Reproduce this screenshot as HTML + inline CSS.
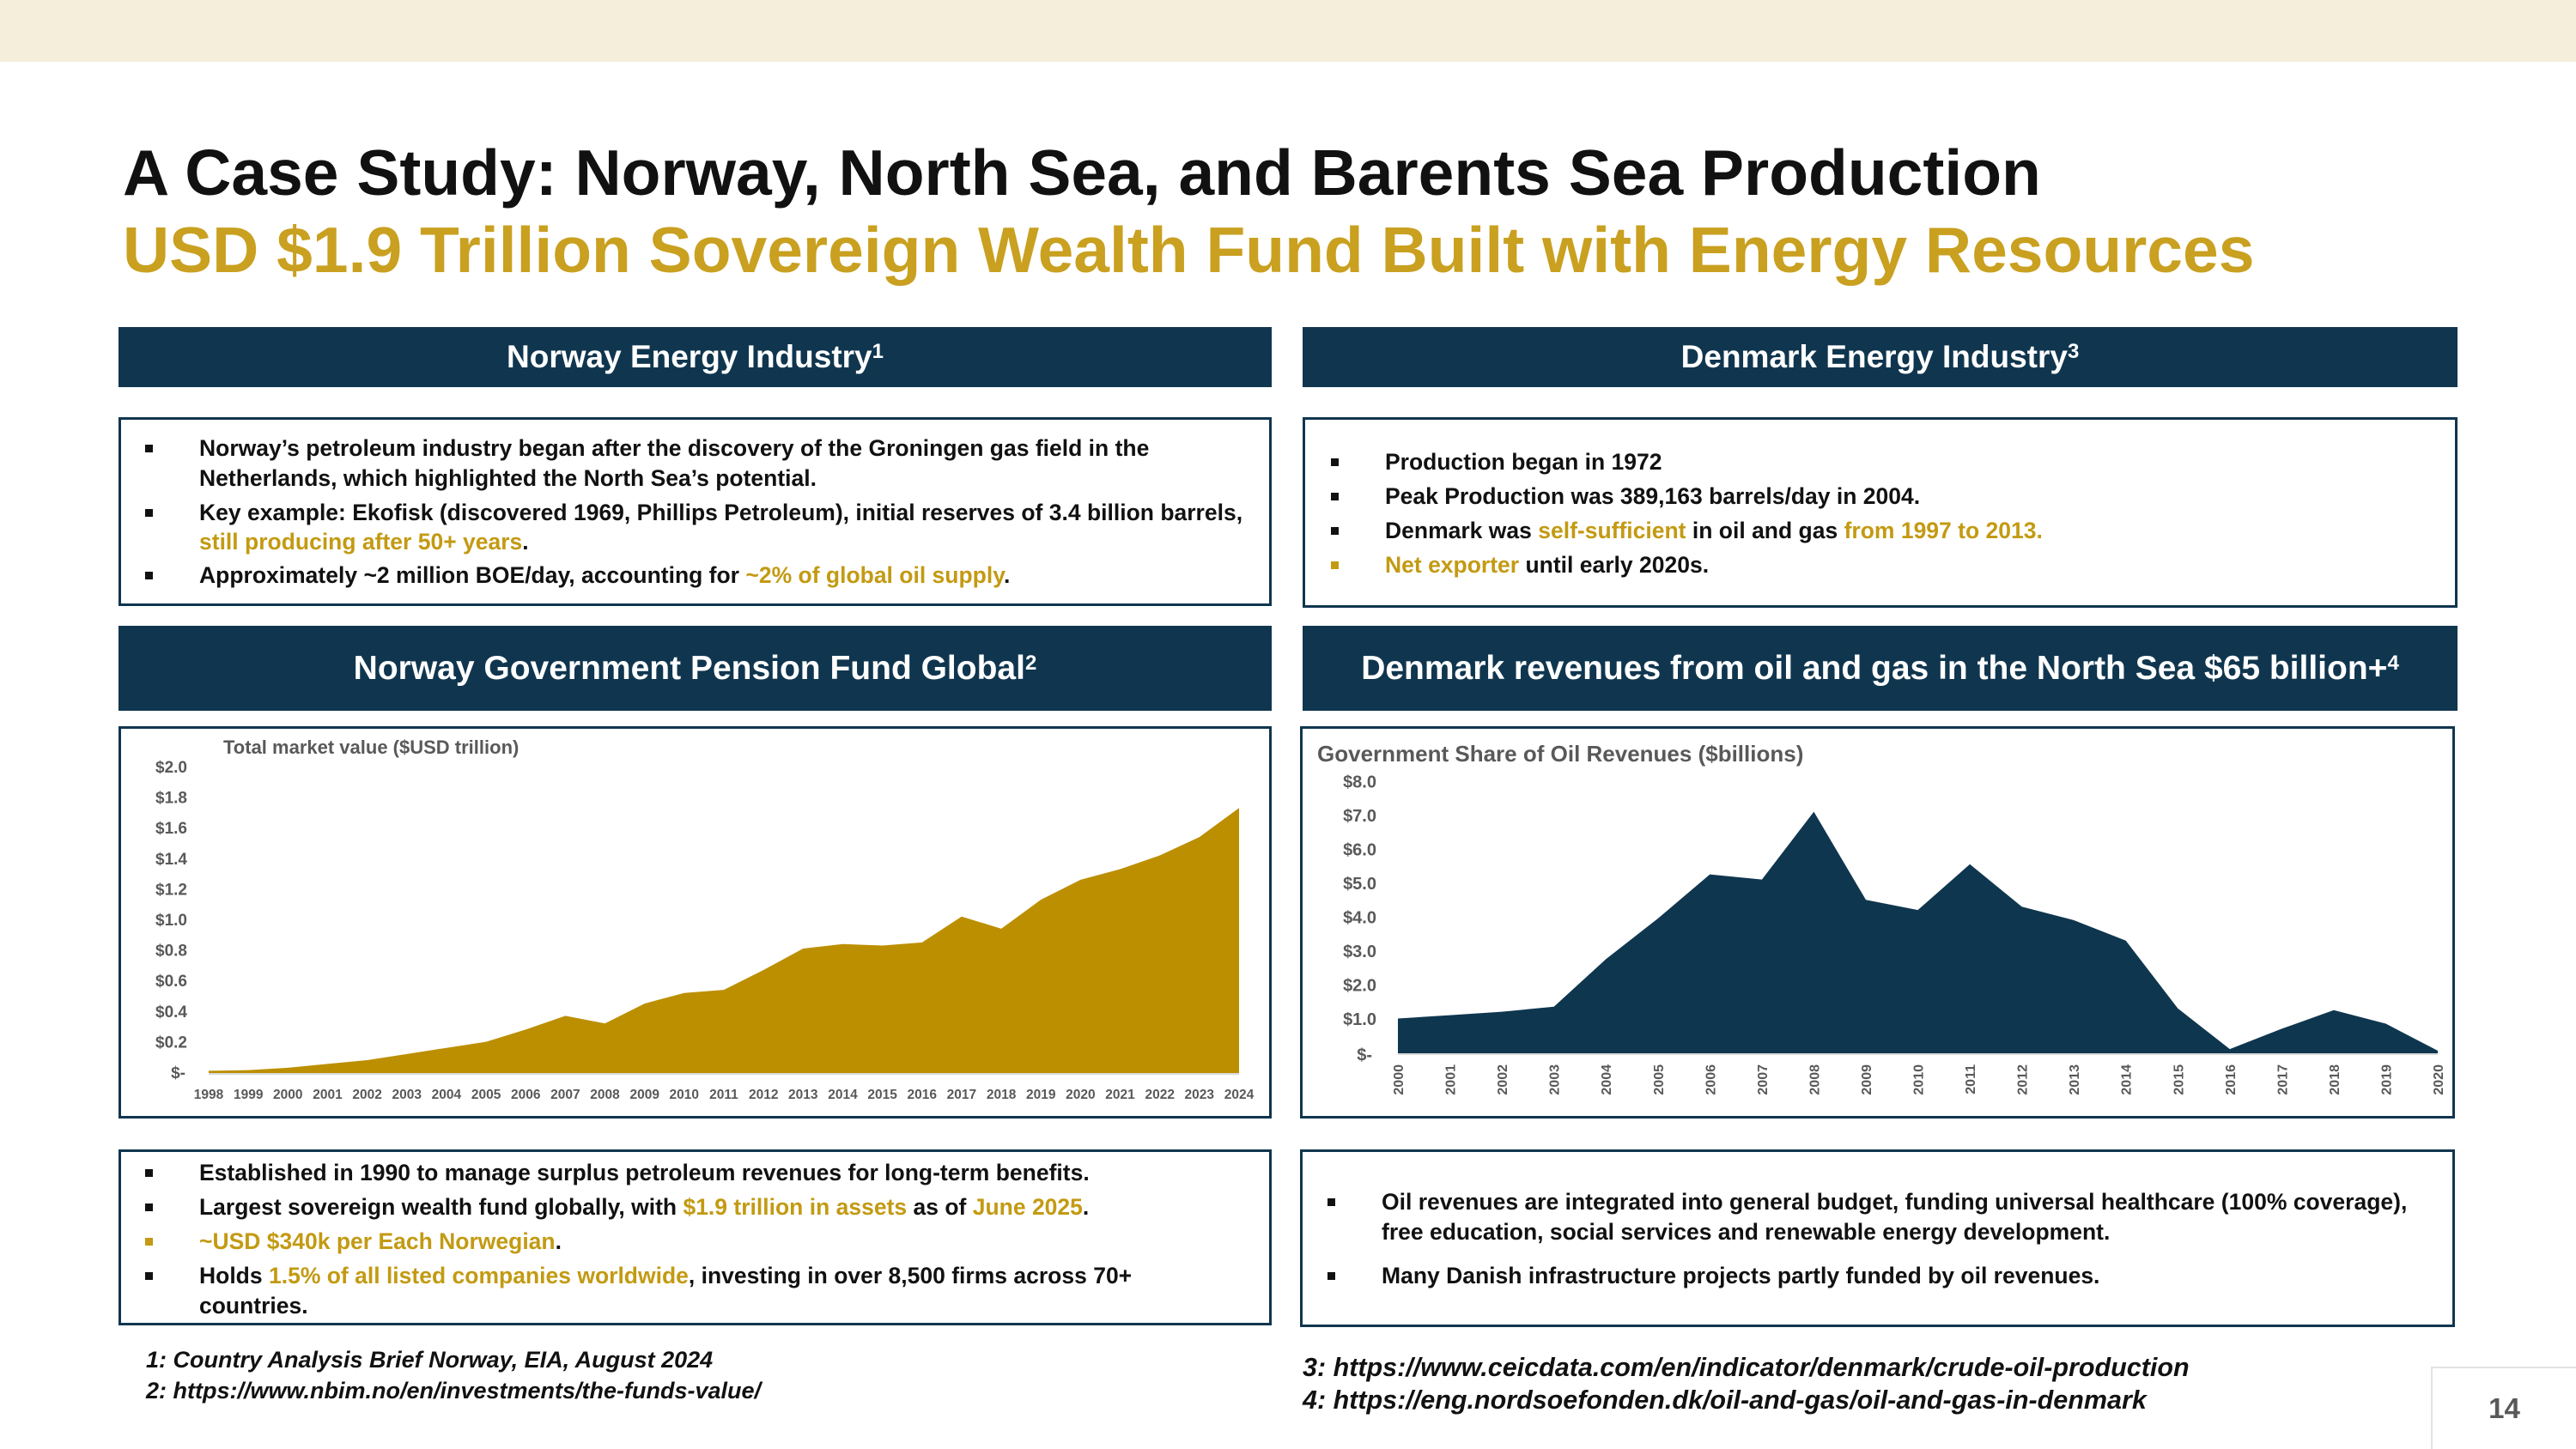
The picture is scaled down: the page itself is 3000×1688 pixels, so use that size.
<!DOCTYPE html>
<html><head><meta charset="utf-8"><style>
*{margin:0;padding:0;box-sizing:border-box}
body{width:3000px;height:1688px;background:#fff;position:relative;overflow:hidden;font-family:"Liberation Sans",sans-serif}
.a{position:absolute}
.hdr{position:absolute;background:#10364f;color:#fff;font-weight:bold;font-size:37px;display:flex;align-items:center;justify-content:center}
.hdr sup{font-size:24px;position:relative;top:-6px}
.box{position:absolute;border:3px solid #10364f;background:#fff}
.ln{position:absolute;font-size:26.5px;font-weight:bold;color:#111;line-height:36px;white-space:nowrap}
.ln i.q{position:absolute;left:-63px;top:14px;width:9px;height:9px;background:#111}
.ln i.q.gq{background:#c39a12}
.g{color:#c39a12}
.fn{position:absolute;font-size:27px;font-weight:bold;font-style:italic;color:#111;white-space:nowrap}
.fn.r{font-size:30.5px}
</style></head><body>
<div class="a" style="left:0;top:0;width:3000px;height:72px;background:#f5eedb"></div>
<div class="a" style="left:143px;top:158px;font-size:75px;font-weight:bold;color:#111;white-space:nowrap">A Case Study: Norway, North Sea, and Barents Sea Production</div>
<div class="a" style="left:143px;top:248px;font-size:75px;font-weight:bold;color:#c9a020;white-space:nowrap">USD $1.9 Trillion Sovereign Wealth Fund Built with Energy Resources</div>

<div class="hdr" style="left:138px;top:381px;width:1343px;height:70px">Norway Energy Industry<sup>1</sup></div>
<div class="hdr" style="left:1517px;top:381px;width:1345px;height:70px">Denmark Energy Industry<sup>3</sup></div>

<div class="box" style="left:138px;top:486px;width:1343px;height:220px"></div>
<div class="ln" style="left:232px;top:504px"><i class="q"></i>Norway’s petroleum industry began after the discovery of the Groningen gas field in the</div>
<div class="ln" style="left:232px;top:539px">Netherlands, which highlighted the North Sea’s potential.</div>
<div class="ln" style="left:232px;top:579px"><i class="q"></i>Key example: Ekofisk (discovered 1969, Phillips Petroleum), initial reserves of 3.4 billion barrels,</div>
<div class="ln" style="left:232px;top:613px"><span class="g">still producing after 50+ years</span>.</div>
<div class="ln" style="left:232px;top:652px"><i class="q"></i>Approximately ~2 million BOE/day, accounting for <span class="g">~2% of global oil supply</span>.</div>

<div class="box" style="left:1517px;top:486px;width:1345px;height:222px"></div>
<div class="ln" style="left:1613px;top:520px"><i class="q"></i>Production began in 1972</div>
<div class="ln" style="left:1613px;top:560px"><i class="q"></i>Peak Production was 389,163 barrels/day in 2004.</div>
<div class="ln" style="left:1613px;top:600px"><i class="q"></i>Denmark was <span class="g">self-sufficient</span> in oil and gas <span class="g">from 1997 to 2013.</span></div>
<div class="ln" style="left:1613px;top:640px"><i class="q gq"></i><span class="g">Net exporter</span> until early 2020s.</div>

<div class="hdr" style="left:138px;top:729px;width:1343px;height:99px;font-size:39px">Norway Government Pension Fund Global<sup>2</sup></div>
<div class="hdr" style="left:1517px;top:729px;width:1345px;height:99px;font-size:39px">Denmark revenues from oil and gas in the North Sea $65 billion+<sup>4</sup></div>

<div class="box" style="left:138px;top:846px;width:1343px;height:457px"></div>
<div class="box" style="left:1514px;top:846px;width:1345px;height:457px"></div>

<svg class="a" style="left:0;top:0" width="3000" height="1688">
<g font-family="Liberation Sans, sans-serif" font-weight="bold" fill="#595959">
<text x="260" y="878" font-size="22">Total market value ($USD trillion)</text>
<polygon fill="#bc8f00" points="243,1251 243,1247.4 289.2,1246.6 335.3,1243.9 381.5,1239.4 427.6,1235 473.8,1227.9 519.9,1220.7 566.1,1213.6 612.2,1199.4 658.4,1183.4 704.5,1192.3 750.7,1169.1 796.8,1156.7 843,1153.1 889.2,1130 935.3,1105 981.5,1099.7 1027.6,1101.5 1073.8,1097.9 1119.9,1067.7 1166.1,1081.9 1212.2,1048.1 1258.4,1024.9 1304.5,1012.5 1350.7,996.5 1396.8,975.1 1443,941.3 1443,1251"/>
<line x1="243" y1="1251" x2="1443" y2="1251" stroke="#d9d9d9" stroke-width="2"/>
<g font-size="19" text-anchor="end" dominant-baseline="middle">
<text x="216" y="1251">$-</text><text x="218" y="1215.4">$0.2</text><text x="218" y="1179.8">$0.4</text><text x="218" y="1144.2">$0.6</text><text x="218" y="1108.6">$0.8</text><text x="218" y="1073">$1.0</text><text x="218" y="1037.4">$1.2</text><text x="218" y="1001.8">$1.4</text><text x="218" y="966.2">$1.6</text><text x="218" y="930.6">$1.8</text><text x="218" y="895">$2.0</text>
</g>
<g font-size="15.5" text-anchor="middle">
<text x="243" y="1280">1998</text><text x="289.2" y="1280">1999</text><text x="335.3" y="1280">2000</text><text x="381.5" y="1280">2001</text><text x="427.6" y="1280">2002</text><text x="473.8" y="1280">2003</text><text x="519.9" y="1280">2004</text><text x="566.1" y="1280">2005</text><text x="612.2" y="1280">2006</text><text x="658.4" y="1280">2007</text><text x="704.5" y="1280">2008</text><text x="750.7" y="1280">2009</text><text x="796.8" y="1280">2010</text><text x="843" y="1280">2011</text><text x="889.2" y="1280">2012</text><text x="935.3" y="1280">2013</text><text x="981.5" y="1280">2014</text><text x="1027.6" y="1280">2015</text><text x="1073.8" y="1280">2016</text><text x="1119.9" y="1280">2017</text><text x="1166.1" y="1280">2018</text><text x="1212.2" y="1280">2019</text><text x="1258.4" y="1280">2020</text><text x="1304.5" y="1280">2021</text><text x="1350.7" y="1280">2022</text><text x="1396.8" y="1280">2023</text><text x="1443" y="1280">2024</text>
</g>

<text x="1534" y="887" font-size="26">Government Share of Oil Revenues ($billions)</text>
<polygon fill="#0f364f" points="1628,1228 1628,1186.5 1688.6,1182.6 1749.1,1178.6 1809.7,1172.7 1870.2,1117.4 1930.8,1070 1991.3,1018.6 2051.9,1024.6 2112.4,945.6 2173,1048.3 2233.5,1060.1 2294.1,1006.8 2354.6,1056.2 2415.2,1072 2475.7,1095.7 2536.3,1174.7 2596.8,1222.1 2657.4,1198.4 2717.9,1176.7 2778.5,1192.5 2839,1224 2839,1228"/>
<line x1="1628" y1="1228" x2="2839" y2="1228" stroke="#d9d9d9" stroke-width="2"/>
<g font-size="20" text-anchor="end" dominant-baseline="middle">
<text x="1598" y="1230">$-</text><text x="1603" y="1188.5">$1.0</text><text x="1603" y="1149">$2.0</text><text x="1603" y="1109.5">$3.0</text><text x="1603" y="1070">$4.0</text><text x="1603" y="1030.5">$5.0</text><text x="1603" y="991">$6.0</text><text x="1603" y="951.5">$7.0</text><text x="1603" y="912">$8.0</text>
</g>
<g font-size="16" text-anchor="end">
<text transform="translate(1634,1240) rotate(-90)">2000</text><text transform="translate(1694.6,1240) rotate(-90)">2001</text><text transform="translate(1755.1,1240) rotate(-90)">2002</text><text transform="translate(1815.7,1240) rotate(-90)">2003</text><text transform="translate(1876.2,1240) rotate(-90)">2004</text><text transform="translate(1936.8,1240) rotate(-90)">2005</text><text transform="translate(1997.3,1240) rotate(-90)">2006</text><text transform="translate(2057.9,1240) rotate(-90)">2007</text><text transform="translate(2118.4,1240) rotate(-90)">2008</text><text transform="translate(2179,1240) rotate(-90)">2009</text><text transform="translate(2239.5,1240) rotate(-90)">2010</text><text transform="translate(2300.1,1240) rotate(-90)">2011</text><text transform="translate(2360.6,1240) rotate(-90)">2012</text><text transform="translate(2421.2,1240) rotate(-90)">2013</text><text transform="translate(2481.7,1240) rotate(-90)">2014</text><text transform="translate(2542.3,1240) rotate(-90)">2015</text><text transform="translate(2602.8,1240) rotate(-90)">2016</text><text transform="translate(2663.4,1240) rotate(-90)">2017</text><text transform="translate(2723.9,1240) rotate(-90)">2018</text><text transform="translate(2784.5,1240) rotate(-90)">2019</text><text transform="translate(2845,1240) rotate(-90)">2020</text>
</g>
</g>
</svg>

<div class="box" style="left:138px;top:1339px;width:1343px;height:205px"></div>
<div class="ln" style="left:232px;top:1348px"><i class="q"></i>Established in 1990 to manage surplus petroleum revenues for long-term benefits.</div>
<div class="ln" style="left:232px;top:1388px"><i class="q"></i>Largest sovereign wealth fund globally, with <span class="g">$1.9 trillion in assets</span> as of <span class="g">June 2025</span>.</div>
<div class="ln" style="left:232px;top:1428px"><i class="q gq"></i><span class="g">~USD $340k per Each Norwegian</span>.</div>
<div class="ln" style="left:232px;top:1468px"><i class="q"></i>Holds <span class="g">1.5% of all listed companies worldwide</span>, investing in over 8,500 firms across 70+</div>
<div class="ln" style="left:232px;top:1503px">countries.</div>

<div class="box" style="left:1514px;top:1339px;width:1345px;height:207px"></div>
<div class="ln" style="left:1609px;top:1382px"><i class="q"></i>Oil revenues are integrated into general budget, funding universal healthcare (100% coverage),</div>
<div class="ln" style="left:1609px;top:1417px">free education, social services and renewable energy development.</div>
<div class="ln" style="left:1609px;top:1468px"><i class="q"></i>Many Danish infrastructure projects partly funded by oil revenues.</div>

<div class="fn" style="left:170px;top:1569px">1: Country Analysis Brief Norway, EIA, August 2024</div>
<div class="fn" style="left:170px;top:1605px">2: https://www.nbim.no/en/investments/the-funds-value/</div>
<div class="fn r" style="left:1517px;top:1576px">3: https://www.ceicdata.com/en/indicator/denmark/crude-oil-production</div>
<div class="fn r" style="left:1517px;top:1614px">4: https://eng.nordsoefonden.dk/oil-and-gas/oil-and-gas-in-denmark</div>

<div class="a" style="left:2831px;top:1592px;width:169px;height:96px;border:2px solid #e3e3e3;border-right:none;border-bottom:none;background:#fff;display:flex;align-items:center;justify-content:center;font-size:33px;font-weight:bold;color:#595959">14</div>
</body></html>
